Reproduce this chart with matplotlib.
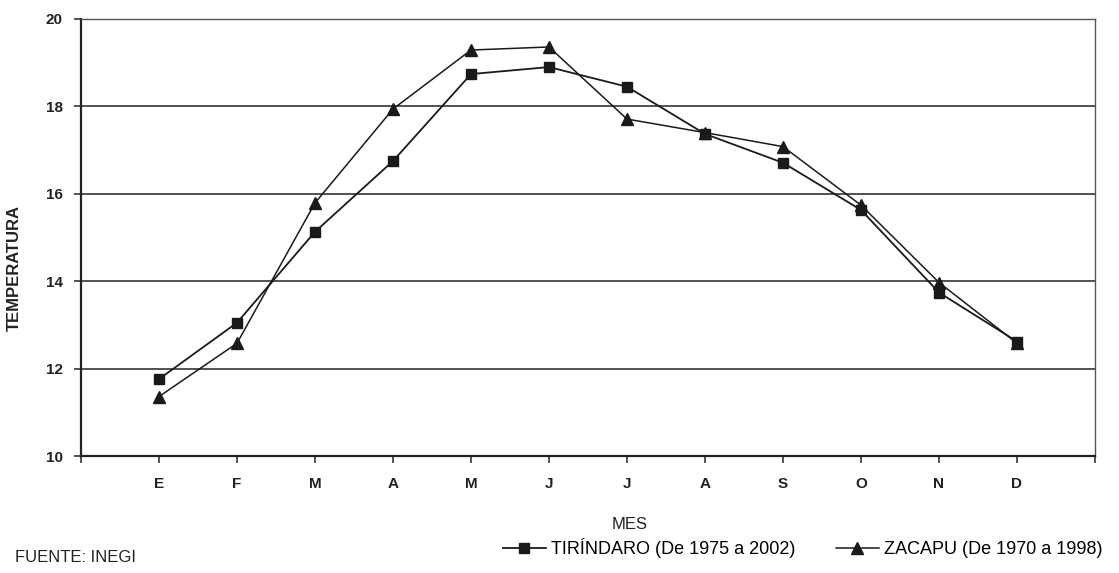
import numpy as np
import matplotlib
matplotlib.use("Agg")
from matplotlib import pyplot as plt

meses = ["E", "F", "M", "A", "M", "J", "J", "A", "S", "O", "N", "D"]
tirindaro = [11.76, 13.05, 15.13, 16.75, 18.74, 18.90, 18.45, 17.37, 16.71, 15.63, 13.74, 12.62]
zacapu = [11.36, 12.58, 15.79, 17.94, 19.29, 19.36, 17.71, 17.40, 17.08, 15.74, 13.97, 12.58]
yticks = [10, 12, 14, 16, 18, 20]

plt.rcParams['font.family'] = ['Liberation Sans Narrow', 'Liberation Sans', 'DejaVu Sans']

fig = plt.figure(figsize=(11.19, 5.73), dpi=100)
ax = fig.add_axes([81/1119, 1-456/573, (1095-81)/1119, (456-19)/573])

x = np.arange(1, len(meses)+1)
ax.plot(x, tirindaro, color='#1a1a1a', lw=1.3, marker='s', ms=7, label='TIRÍNDARO (De 1975 a 2002)')
ax.plot(x, zacapu, color='#1a1a1a', lw=1.1, marker='^', ms=8, label='ZACAPU (De 1970 a 1998)')

ax.set_xlim(0, 13)
ax.set_ylim(10, 20)
ax.set_xticks(range(0, 14))
ax.set_xticklabels([""] + meses + [""], fontsize=11, fontweight='bold', color='#222')
ax.set_yticks(yticks)
ax.set_yticklabels([str(v) for v in yticks], fontsize=11, fontweight='bold', color='#222')
ax.tick_params(axis='both', direction='out', length=5, width=1.2, color='#333')
ax.tick_params(axis='x', pad=10)
ax.tick_params(axis='y', pad=8)

for v in yticks[1:]:
    ax.axhline(v, color='#333', lw=1.2, zorder=0)

for s in ['top', 'right']:
    ax.spines[s].set_color('#555')
    ax.spines[s].set_linewidth(1.0)
for s in ['left', 'bottom']:
    ax.spines[s].set_color('#222')
    ax.spines[s].set_linewidth(1.6)

ax.set_ylabel("TEMPERATURA", fontsize=12, fontweight='bold', color='#222')
ax.yaxis.set_label_coords(-0.058, 0.43)
ax.set_xlabel("MES", fontsize=12, color='#222')
ax.xaxis.set_label_coords((630-81)/1014, -0.14)

fig.legend(loc='center right', bbox_to_anchor=(1.0, 1-548/573), ncol=2, frameon=False,
           fontsize=13, handlelength=2.4, columnspacing=2.2, handletextpad=0.3)

fig.text(15/1119, 1-557/573, "FUENTE: INEGI", fontsize=12, color='#222', va='center')

fig.savefig("out.png", dpi=100)
